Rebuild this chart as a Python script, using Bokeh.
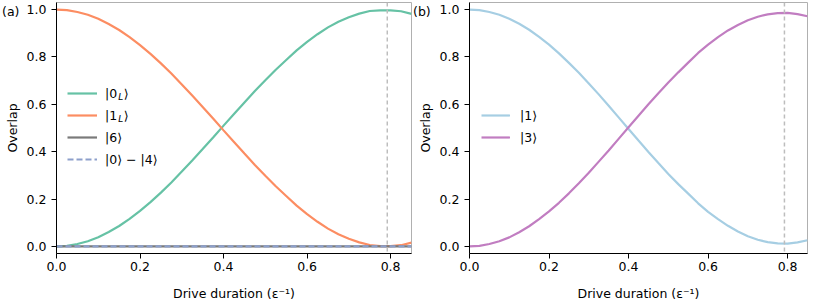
from bokeh.plotting import figure
from bokeh.models import Range1d, Legend, LegendItem, Label, Span, FixedTicker, PrintfTickFormatter, Div
from bokeh.layouts import row
from bokeh.embed import file_html
from bokeh.resources import INLINE

# ---------------- data ----------------
t = [0.0, 0.025, 0.05, 0.075, 0.1, 0.125, 0.15, 0.175, 0.2, 0.225, 0.25, 0.275,
     0.3, 0.325, 0.35, 0.375, 0.4, 0.425, 0.45, 0.475, 0.5, 0.525, 0.55, 0.575,
     0.6, 0.625, 0.65, 0.675, 0.7, 0.725, 0.75, 0.775, 0.8, 0.825, 0.85]

# panel (a)
overlap_0L = [0.000, 0.002, 0.010, 0.022, 0.039, 0.061, 0.086, 0.116, 0.150, 0.187, 0.227, 0.270,
              0.316, 0.363, 0.411, 0.460, 0.510, 0.559, 0.608, 0.656, 0.702, 0.746, 0.787, 0.828,
              0.864, 0.896, 0.925, 0.949, 0.968, 0.983, 0.994, 0.997, 0.997, 0.993, 0.982]
overlap_1L = [1.000, 0.998, 0.990, 0.978, 0.961, 0.939, 0.914, 0.884, 0.850, 0.813, 0.773, 0.730,
              0.684, 0.637, 0.589, 0.540, 0.490, 0.441, 0.392, 0.344, 0.298, 0.254, 0.213, 0.172,
              0.136, 0.104, 0.075, 0.051, 0.032, 0.017, 0.006, 0.001, 0.001, 0.005, 0.016]
overlap_6 = [0.0, 0.0, 0.0, 0.0, 0.0, 0.0, 0.0, 0.0, 0.0, 0.0, 0.0, 0.0,
             0.0, 0.0, 0.0, 0.0, 0.0, 0.0, 0.0, 0.0, 0.0, 0.0, 0.0, 0.0,
             0.0, 0.0, 0.0, 0.0, 0.0, 0.0, 0.0, 0.0, 0.0, 0.0, 0.0]
overlap_0m4 = [0.0, 0.0, 0.0, 0.0, 0.0, 0.0, 0.0, 0.0, 0.0, 0.0, 0.0, 0.0,
               0.0, 0.0, 0.0, 0.0, 0.0, 0.0, 0.0, 0.0, 0.0, 0.0, 0.0, 0.0,
               0.0, 0.0, 0.0, 0.0, 0.0, 0.0, 0.0, 0.0, 0.0, 0.0, 0.0]

# panel (b)
overlap_1 = [1.000, 0.998, 0.990, 0.978, 0.961, 0.940, 0.915, 0.885, 0.852, 0.815, 0.775, 0.733,
             0.688, 0.642, 0.594, 0.545, 0.496, 0.447, 0.399, 0.352, 0.306, 0.263, 0.223, 0.182,
             0.146, 0.115, 0.087, 0.063, 0.043, 0.028, 0.018, 0.013, 0.012, 0.017, 0.026]
overlap_3 = [0.000, 0.002, 0.010, 0.022, 0.038, 0.060, 0.085, 0.115, 0.148, 0.184, 0.224, 0.267,
             0.311, 0.358, 0.405, 0.454, 0.503, 0.552, 0.600, 0.647, 0.692, 0.735, 0.776, 0.817,
             0.852, 0.884, 0.912, 0.935, 0.955, 0.970, 0.980, 0.985, 0.986, 0.981, 0.972]

gate_time = 0.792
x_ticks = [0.0, 0.2, 0.4, 0.6, 0.8]
y_ticks = [0.0, 0.2, 0.4, 0.6, 0.8, 1.0]
panel_labels = ["(a)", "(b)"]

FONT = "DejaVu Sans"
FS = "12.5px"


def make_fig(width, border_left, border_right):
    p = figure(width=width, height=303,
               x_range=Range1d(0, 0.85), y_range=Range1d(-0.03, 1.03),
               output_backend="svg", toolbar_location=None,
               min_border_left=border_left, min_border_right=border_right,
               min_border_top=2, min_border_bottom=50)
    p.grid.visible = False
    p.outline_line_color = "#b0b0b0"
    p.outline_line_width = 1
    p.background_fill_color = "white"
    p.border_fill_color = "white"

    p.xaxis.ticker = FixedTicker(ticks=x_ticks)
    p.yaxis.ticker = FixedTicker(ticks=y_ticks)
    p.xaxis.formatter = PrintfTickFormatter(format="%.1f")
    p.yaxis.formatter = PrintfTickFormatter(format="%.1f")
    for ax in (p.xaxis[0], p.yaxis[0]):
        ax.axis_line_color = "black"
        ax.axis_line_width = 1
        ax.major_tick_line_color = "black"
        ax.major_tick_in = 0
        ax.major_tick_out = 5
        ax.minor_tick_line_color = None
        ax.major_label_text_font = FONT
        ax.major_label_text_font_size = FS
        ax.major_label_text_color = "black"
        ax.axis_label_text_font = FONT
        ax.axis_label_text_font_size = FS
        ax.axis_label_text_font_style = "normal"
        ax.axis_label_text_color = "black"
    p.xaxis.major_label_standoff = 3
    p.yaxis.major_label_standoff = 5
    p.xaxis.axis_label = "Drive duration (\u03b5\u207b\u00b9)"
    p.yaxis.axis_label = "Overlap"
    p.xaxis.axis_label_standoff = 12
    p.yaxis.axis_label_standoff = 4
    p.add_layout(Span(location=gate_time, dimension="height", line_color="#bdbdbd",
                      line_dash="4 3", line_width=1.5))
    return p


def style_legend(lg, x, y, glyph_w, standoff):
    lg.location = (x, y)
    lg.glyph_width = glyph_w
    lg.glyph_height = 20
    lg.label_height = 20
    lg.spacing = 2
    lg.padding = 0
    lg.margin = 0
    lg.label_standoff = standoff
    lg.border_line_alpha = 0
    lg.background_fill_alpha = 0
    lg.label_text_font = FONT
    lg.label_text_font_size = FS
    lg.label_text_color = "black"


# ---------------- panel (a) ----------------
p1 = make_fig(413, 56, 2)
LW = 2.2
r0L = p1.line(t, overlap_0L, line_color="#66c2a5", line_width=LW)
r1L = p1.line(t, overlap_1L, line_color="#fc8d62", line_width=LW)
r6 = p1.line(t, overlap_6, line_color="#7a7a7a", line_width=LW)
r04 = p1.line(t, overlap_0m4, line_color="#8da0cb", line_width=LW, line_dash="6 3")

lg1 = Legend(items=[LegendItem(label="|0", renderers=[r0L]),
                    LegendItem(label="|1", renderers=[r1L]),
                    LegendItem(label="|6\u27e9", renderers=[r6]),
                    LegendItem(label="|0\u27e9 \u2212 |4\u27e9", renderers=[r04])])
style_legend(lg1, 11, 84, 30, 8)
p1.add_layout(lg1)

# subscripts L and closing kets for first two legend entries
row_y = [160, 138]
for yy in row_y:
    p1.add_layout(Label(x=61.7, y=yy - 3.4, x_units="screen", y_units="screen", text="L",
                        text_font=FONT, text_font_size="9px", text_font_style="italic",
                        text_baseline="middle", text_align="left", text_color="black"))
    p1.add_layout(Label(x=67.2, y=yy, x_units="screen", y_units="screen", text="\u27e9",
                        text_font=FONT, text_font_size=FS,
                        text_baseline="middle", text_align="left", text_color="black"))

# ---------------- panel (b) ----------------
p2 = make_fig(415, 56, 21)
r1 = p2.line(t, overlap_1, line_color="#a6cee3", line_width=LW)
r3 = p2.line(t, overlap_3, line_color="#c17dc1", line_width=LW)
lg2 = Legend(items=[LegendItem(label="|1\u27e9", renderers=[r1]),
                    LegendItem(label="|3\u27e9", renderers=[r3])])
style_legend(lg2, 12, 106, 29, 10)
p2.add_layout(lg2)


def panel_div(text, left):
    return Div(text=text, width=24, height=16,
               styles={"position": "absolute", "left": f"{left}px", "top": "4px",
                       "font-family": FONT, "font-size": FS, "color": "black",
                       "line-height": "16px", "margin": "0"})


div_a = panel_div(panel_labels[0], 2)
div_b = panel_div(panel_labels[1], 413)

layout = row(p1, p2, div_a, div_b)

open("out.html", "w").write(file_html(layout, INLINE))
